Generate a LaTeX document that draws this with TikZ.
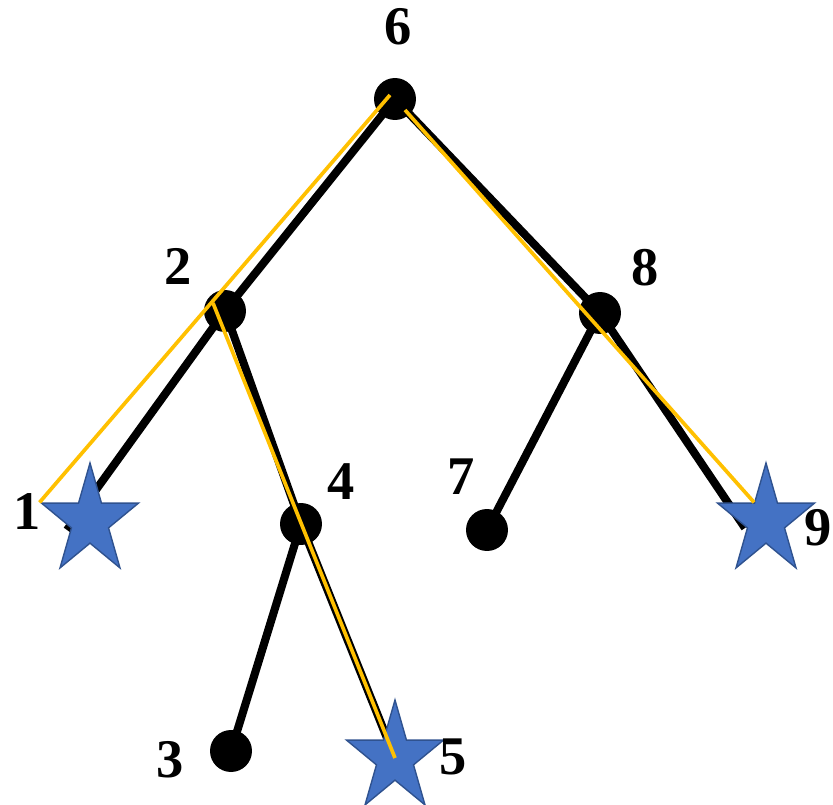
\documentclass[tikz,border=0pt]{standalone}
\usepackage{fontspec}
\setmainfont{Liberation Serif}
\usetikzlibrary{shapes.geometric,backgrounds}
\definecolor{starblue}{HTML}{4472C4}
\definecolor{starline}{HTML}{2F528F}
\definecolor{gold}{HTML}{FFC000}
\tikzset{vtx/.style={circle,fill=black,inner sep=0pt,minimum size=0.84cm},
  leaf/.style={star,star points=5,star point ratio=2.618,fill=starblue,draw=starline,
    line width=0.8pt,inner sep=0pt,minimum size=2.32cm,xscale=0.88,transform shape},
  edge/.style={draw=black,line width=4.6pt},
  hilite/.style={draw=gold,line width=2.1pt},
  num/.style={font=\fontsize{31}{31}\selectfont\bfseries,inner sep=0pt}}
\begin{document}
\begin{tikzpicture}[x=0.02cm,y=-0.02cm]
  \useasboundingbox (0,0) rectangle (833,805);
  \node[vtx] (n6) at (395,99) {};
  \node[vtx] (n2) at (225,311) {};
  \node[vtx] (n8) at (600,313) {};
  \node[vtx] (n4) at (301,524) {};
  \node[vtx] (n7) at (487,530) {};
  \node[vtx] (n3) at (231,751) {};
  \node[leaf] (n1) at (90,521) {};
  \node[leaf] (n9) at (766,521) {};
  \node[leaf] (n5) at (395,758) {};
  \coordinate (e1) at (67,530);
  \coordinate (e9) at (745,528);
  \begin{scope}[on background layer]
    \draw[edge] (n6.center) -- (n2.center);
    \draw[edge] (n6.center) -- (n8.center);
    \draw[edge] (n2.center) -- (e1);
    \draw[edge] (n2.center) -- (n4.center);
    \draw[edge] (n4.center) -- (n3.center);
    \draw[edge] (n4.center) -- (n5.center);
    \draw[edge] (n8.center) -- (n7.center);
    \draw[edge] (n8.center) -- (e9);
  \end{scope}
  \coordinate (y6a) at (390,95);
  \coordinate (y6b) at (405,110);
  \coordinate (y2) at (213,303);
  \draw[hilite] (n1.outer point 2) -- (y6a);
  \draw[hilite] (y2) -- (n5.center);
  \draw[hilite] (y6b) -- (n9.inner point 1);
  \node[num] (l6) at (398,27) {6};
  \node[num] (l2) at (178,266) {2};
  \node[num] (l8) at (645,268) {8};
  \node[num] (l4) at (341,482) {4};
  \node[num] (l7) at (461,477) {7};
  \node[num] (l1) at (27,512) {1};
  \node[num] (l9) at (818,528) {9};
  \node[num] (l3) at (170,760) {3};
  \node[num] (l5) at (453,757) {5};
\end{tikzpicture}
\end{document}
